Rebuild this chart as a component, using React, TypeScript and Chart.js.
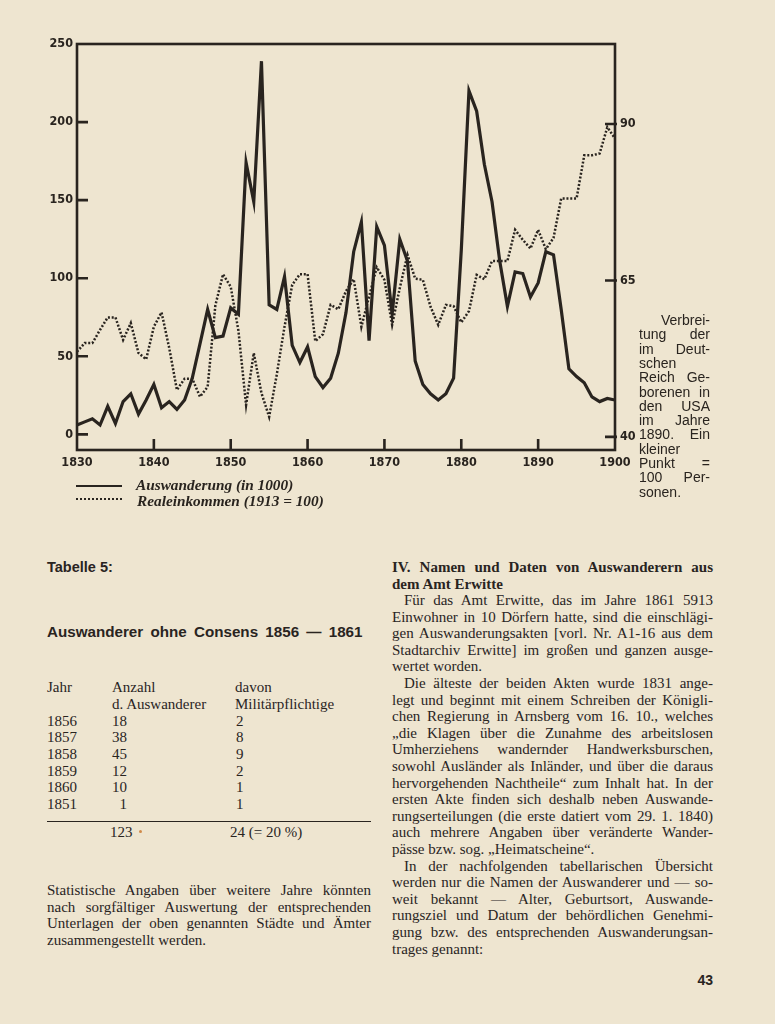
import React, { useEffect, useRef } from "react";
import { Chart, registerables } from "chart.js";

Chart.register(...registerables);

// ---------------- data ----------------
const years = [
  1830, 1831, 1832, 1833, 1834, 1835, 1836, 1837, 1838, 1839,
  1840, 1841, 1842, 1843, 1844, 1845, 1846, 1847, 1848, 1849,
  1850, 1851, 1852, 1853, 1854, 1855, 1856, 1857, 1858, 1859,
  1860, 1861, 1862, 1863, 1864, 1865, 1866, 1867, 1868, 1869,
  1870, 1871, 1872, 1873, 1874, 1875, 1876, 1877, 1878, 1879,
  1880, 1881, 1882, 1883, 1884, 1885, 1886, 1887, 1888, 1889,
  1890, 1891, 1892, 1893, 1894, 1895, 1896, 1897, 1898, 1899, 1900,
];

// Auswanderung (in 1000) – left axis
const emigration = [
  6, 8, 10, 6, 18, 7, 21, 26, 13, 22,
  32, 17, 21, 16, 22, 36, 58, 80, 62, 63,
  81, 77, 174, 149, 239, 83, 80, 101, 57, 46,
  56, 37, 30, 36, 52, 78, 117, 136, 60, 133,
  121, 77, 125, 111, 47, 32, 26, 22, 26, 36,
  118, 220, 207, 173, 149, 111, 82, 104, 103, 88,
  97, 117, 115, 80, 42, 37, 33, 24, 21, 23, 22,
];

// Realeinkommen (1913 = 100) – right axis
const income = [
  53.6, 55, 55, 57.1, 59.1, 59.1, 55.5, 58.2, 53.4, 52.4,
  57.6, 59.9, 54.2, 47.5, 49.3, 49.3, 46.4, 48.0, 61, 66,
  64, 57, 45.1, 53.4, 47, 43.2, 50, 57.6, 64.3, 66,
  66, 55.3, 56.4, 61.1, 60.4, 63.3, 65.2, 57.6, 62.4, 67.1,
  65.1, 57.9, 63.8, 69.1, 65.3, 65.1, 60.8, 57.9, 61.1, 60.9,
  58.3, 60.1, 65.9, 65.2, 68.1, 68.1, 68.1, 73.1, 71.5, 70.1,
  73.1, 70, 71.8, 78.1, 78.1, 78.1, 85, 85, 85.3, 89.5, 87.7,
];

const xTickLabels = [1830, 1840, 1850, 1860, 1870, 1880, 1890, 1900];
const xTickMarks = [1840, 1850, 1860, 1870, 1880, 1890];
const leftTickLabels = [0, 50, 100, 150, 200, 250];
const leftTickMarks = [0, 50, 100, 150, 200];
const rightTickLabels = [40, 65, 90];

const legendLabels = ["Auswanderung (in 1000)", "Realeinkommen (1913 = 100)"];

const tableYears = ["1856", "1857", "1858", "1859", "1860", "1851"];
const tableCounts = ["18", "38", "45", "12", "10", "1"];
const tableMilitary = ["2", "8", "9", "2", "1", "1"];

// ---------------- styles ----------------
const INK = "#29241f";
const PAPER = "#eee5d0";
const AXIS_FONT = "'Liberation Sans Narrow', 'Arial Narrow', 'DejaVu Sans Condensed', 'Liberation Sans', sans-serif";
const SERIF = "'Liberation Serif', 'Times New Roman', serif";
const SANS = "'Liberation Sans', Arial, sans-serif";

const framePlugin = {
  id: "frameTicks",
  afterDatasetsDraw(chart: any) {
    const { ctx, chartArea: a, scales } = chart;
    ctx.save();
    ctx.strokeStyle = INK;
    ctx.lineWidth = 2.6;
    ctx.lineCap = "butt";
    ctx.strokeRect(a.left, a.top, a.right - a.left, a.bottom - a.top);
    ctx.beginPath();
    leftTickMarks.forEach((v) => {
      const y = scales.y.getPixelForValue(v);
      ctx.moveTo(a.left, y);
      ctx.lineTo(a.left + 11, y);
    });
    rightTickLabels.forEach((v) => {
      const y = scales.y2.getPixelForValue(v);
      ctx.moveTo(a.right + 2, y);
      ctx.lineTo(a.right - 10, y);
    });
    xTickMarks.forEach((v) => {
      const x = scales.x.getPixelForValue(v);
      ctx.moveTo(x, a.bottom);
      ctx.lineTo(x, a.bottom - 11);
    });
    ctx.stroke();
    ctx.restore();
  },
};

function ChartBox() {
  const ref = useRef<HTMLCanvasElement | null>(null);
  useEffect(() => {
    if (!ref.current) return;
    const tickFont = { family: AXIS_FONT, size: 12.5, weight: "bold" as const };
    const chart = new Chart(ref.current, {
      type: "line",
      data: {
        datasets: [
          {
            label: legendLabels[0],
            data: years.map((y, i) => ({ x: y, y: emigration[i] })),
            yAxisID: "y",
            borderColor: INK,
            borderWidth: 3.2,
            pointRadius: 0,
            tension: 0,
            borderJoinStyle: "miter",
          },
          {
            label: legendLabels[1],
            data: years.map((y, i) => ({ x: y, y: income[i] })),
            yAxisID: "y2",
            borderColor: INK,
            borderWidth: 2.5,
            borderDash: [2, 1.8],
            pointRadius: 0,
            tension: 0,
          },
        ],
      },
      options: {
        animation: false,
        responsive: true,
        maintainAspectRatio: false,
        layout: { padding: { top: 44, left: 0, right: 0, bottom: 0 } },
        plugins: { legend: { display: false }, tooltip: { enabled: false } },
        scales: {
          x: {
            type: "linear",
            min: 1830,
            max: 1900,
            afterBuildTicks: (s: any) => {
              s.ticks = xTickLabels.map((v) => ({ value: v }));
            },
            afterFit: (s: any) => {
              s.height = 30;
            },
            ticks: {
              callback: (v: any) => String(v),
              font: tickFont,
              color: INK,
              padding: 5,
              maxRotation: 0,
              autoSkip: false,
            },
            grid: { display: false, drawTicks: false },
            border: { display: false },
          },
          y: {
            type: "linear",
            position: "left",
            min: -10,
            max: 250,
            afterBuildTicks: (s: any) => {
              s.ticks = leftTickLabels.map((v) => ({ value: v }));
            },
            afterFit: (s: any) => {
              s.width = 77;
            },
            ticks: { font: tickFont, color: INK, padding: 4, callback: (v: any) => String(v) },
            grid: { display: false, drawTicks: false },
            border: { display: false },
          },
          y2: {
            type: "linear",
            position: "right",
            min: 37.9,
            max: 102.8,
            afterBuildTicks: (s: any) => {
              s.ticks = rightTickLabels.map((v) => ({ value: v }));
            },
            afterFit: (s: any) => {
              s.width = 35;
            },
            ticks: { font: tickFont, color: INK, padding: 5, callback: (v: any) => String(v) },
            grid: { display: false, drawTicks: false },
            border: { display: false },
          },
        },
      },
      plugins: [framePlugin],
    });
    return () => chart.destroy();
  }, []);
  return (
    <div style={{ position: "absolute", left: 0, top: 0, width: 650, height: 480 }}>
      <canvas ref={ref} />
    </div>
  );
}

type LineProps = {
  x: number;
  y: number;
  w?: number;
  text: string;
  justify?: boolean;
  indent?: number;
  font?: string;
  weight?: number | string;
  size?: number;
  align?: "left" | "right" | "center" | "justify";
  lh?: number;
  italic?: boolean;
  wordSpacing?: number;
};

function L({ x, y, w = 322, text, justify, indent = 0, font = SERIF, weight = "normal", size = 15, align, lh = 16, italic, wordSpacing = 0 }: LineProps) {
  const a = align || (justify ? "justify" : "left");
  return (
    <div
      style={{
        position: "absolute",
        left: x,
        top: y - lh / 2,
        width: w,
        height: lh,
        lineHeight: lh + "px",
        fontFamily: font,
        fontSize: size,
        fontWeight: weight as any,
        fontStyle: italic ? "italic" : "normal",
        textAlign: a,
        textAlignLast: a as any,
        textIndent: indent,
        wordSpacing: wordSpacing,
        color: INK,
        whiteSpace: "normal",
        overflow: "visible",
      }}
    >
      {text}
    </div>
  );
}

const noteLines: [string, "left" | "right" | "justify"][] = [
  ["Verbrei-", "right"],
  ["tung der", "justify"],
  ["im Deut-", "justify"],
  ["schen", "left"],
  ["Reich Ge-", "justify"],
  ["borenen in", "justify"],
  ["den USA", "justify"],
  ["im Jahre", "justify"],
  ["1890. Ein", "justify"],
  ["kleiner", "left"],
  ["Punkt =", "justify"],
  ["100 Per-", "justify"],
  ["sonen.", "left"],
];

const rightCol: [string, boolean, number][] = [
  ["Für das Amt Erwitte, das im Jahre 1861 5913", true, 12],
  ["Einwohner in 10 Dörfern hatte, sind die einschlägi-", true, 0],
  ["gen Auswanderungsakten [vorl. Nr. A1-16 aus dem", true, 0],
  ["Stadtarchiv Erwitte] im großen und ganzen ausge-", true, 0],
  ["wertet worden.", false, 0],
  ["Die älteste der beiden Akten wurde 1831 ange-", true, 12],
  ["legt und beginnt mit einem Schreiben der Königli-", true, 0],
  ["chen Regierung in Arnsberg vom 16. 10., welches", true, 0],
  ["„die Klagen über die Zunahme des arbeitslosen", true, 0],
  ["Umherziehens wandernder Handwerksburschen,", true, 0],
  ["sowohl Ausländer als Inländer, und über die daraus", true, 0],
  ["hervorgehenden Nachtheile“ zum Inhalt hat. In der", true, 0],
  ["ersten Akte finden sich deshalb neben Auswande-", true, 0],
  ["rungserteilungen (die erste datiert vom 29. 1. 1840)", true, 0],
  ["auch mehrere Angaben über veränderte Wander-", true, 0],
  ["pässe bzw. sog. „Heimatscheine“.", false, 0],
  ["In der nachfolgenden tabellarischen Übersicht", true, 12],
  ["werden nur die Namen der Auswanderer und — so-", true, 0],
  ["weit bekannt — Alter, Geburtsort, Auswande-", true, 0],
  ["rungsziel und Datum der behördlichen Genehmi-", true, 0],
  ["gung bzw. des entsprechenden Auswanderungsan-", true, 0],
  ["trages genannt:", false, 0],
];

const leftPara: [string, boolean][] = [
  ["Statistische Angaben über weitere Jahre könnten", true],
  ["nach sorgfältiger Auswertung der entsprechenden", true],
  ["Unterlagen der oben genannten Städte und Ämter", true],
  ["zusammengestellt werden.", false],
];

export default function App() {
  const rowY = (i: number) => 720.5 + i * 16.7;
  return (
    <div
      style={{
        position: "absolute",
        left: 0,
        top: 0,
        width: 775,
        height: 1024,
        background: PAPER,
        overflow: "hidden",
      }}
    >
      <ChartBox />

      {/* legend */}
      <div style={{ position: "absolute", left: 76, top: 485, width: 46, borderTop: `2.5px solid ${INK}` }} />
      <L x={136} y={485} w={300} text={legendLabels[0]} italic weight="bold" size={15.3} />
      <div style={{ position: "absolute", left: 76, top: 498, width: 46, borderTop: `2px dotted ${INK}` }} />
      <L x={137} y={501} w={300} text={legendLabels[1]} italic weight="bold" size={15.3} />

      {/* side note */}
      {noteLines.map(([t, a], i) => (
        <L key={"n" + i} x={639} y={320 + i * 14.3} w={71} text={t} align={a} font={SANS} size={14} lh={14} />
      ))}

      {/* left column */}
      <L x={47} y={567} w={200} text="Tabelle 5:" font={SANS} weight="bold" size={14.5} />
      <L x={47} y={632} w={330} text="Auswanderer ohne Consens 1856 — 1861" font={SANS} weight="bold" size={15.2} wordSpacing={3} />

      <L x={47} y={686.5} w={60} text="Jahr" />
      <L x={112} y={686.5} w={120} text="Anzahl" />
      <L x={235} y={686.5} w={130} text="davon" />
      <L x={112} y={703.5} w={120} text="d. Auswanderer" />
      <L x={235} y={703.5} w={130} text="Militärpflichtige" />
      {tableYears.map((yr, i) => (
        <React.Fragment key={"r" + i}>
          <L x={47} y={rowY(i)} w={60} text={yr} />
          <L x={110} y={rowY(i)} w={17} text={tableCounts[i]} align="right" />
          <L x={236} y={rowY(i)} w={60} text={tableMilitary[i]} />
        </React.Fragment>
      ))}
      <div style={{ position: "absolute", left: 47, top: 821, width: 324, borderTop: `1.5px solid ${INK}` }} />
      <L x={110} y={831.5} w={60} text="123" />
      <div style={{ position: "absolute", left: 139, top: 830, width: 3, height: 3, borderRadius: 2, background: "#d08a4a" }} />
      <L x={230} y={831.5} w={130} text="24 (= 20 %)" />

      {leftPara.map(([t, j], i) => (
        <L key={"lp" + i} x={47} y={890 + i * 16.6} w={324} text={t} justify={j} />
      ))}

      {/* right column */}
      <L x={392} y={567} w={321} text="IV. Namen und Daten von Auswanderern aus" weight="bold" justify />
      <L x={392} y={583.5} w={321} text="dem Amt Erwitte" weight="bold" />
      {rightCol.map(([t, j, ind], i) => (
        <L key={"rc" + i} x={392} y={600 + i * 16.6} w={321} text={t} justify={j} indent={ind} />
      ))}

      {/* page number */}
      <L x={690} y={980} w={23} text="43" font={SANS} weight="bold" size={14} align="right" />
    </div>
  );
}
